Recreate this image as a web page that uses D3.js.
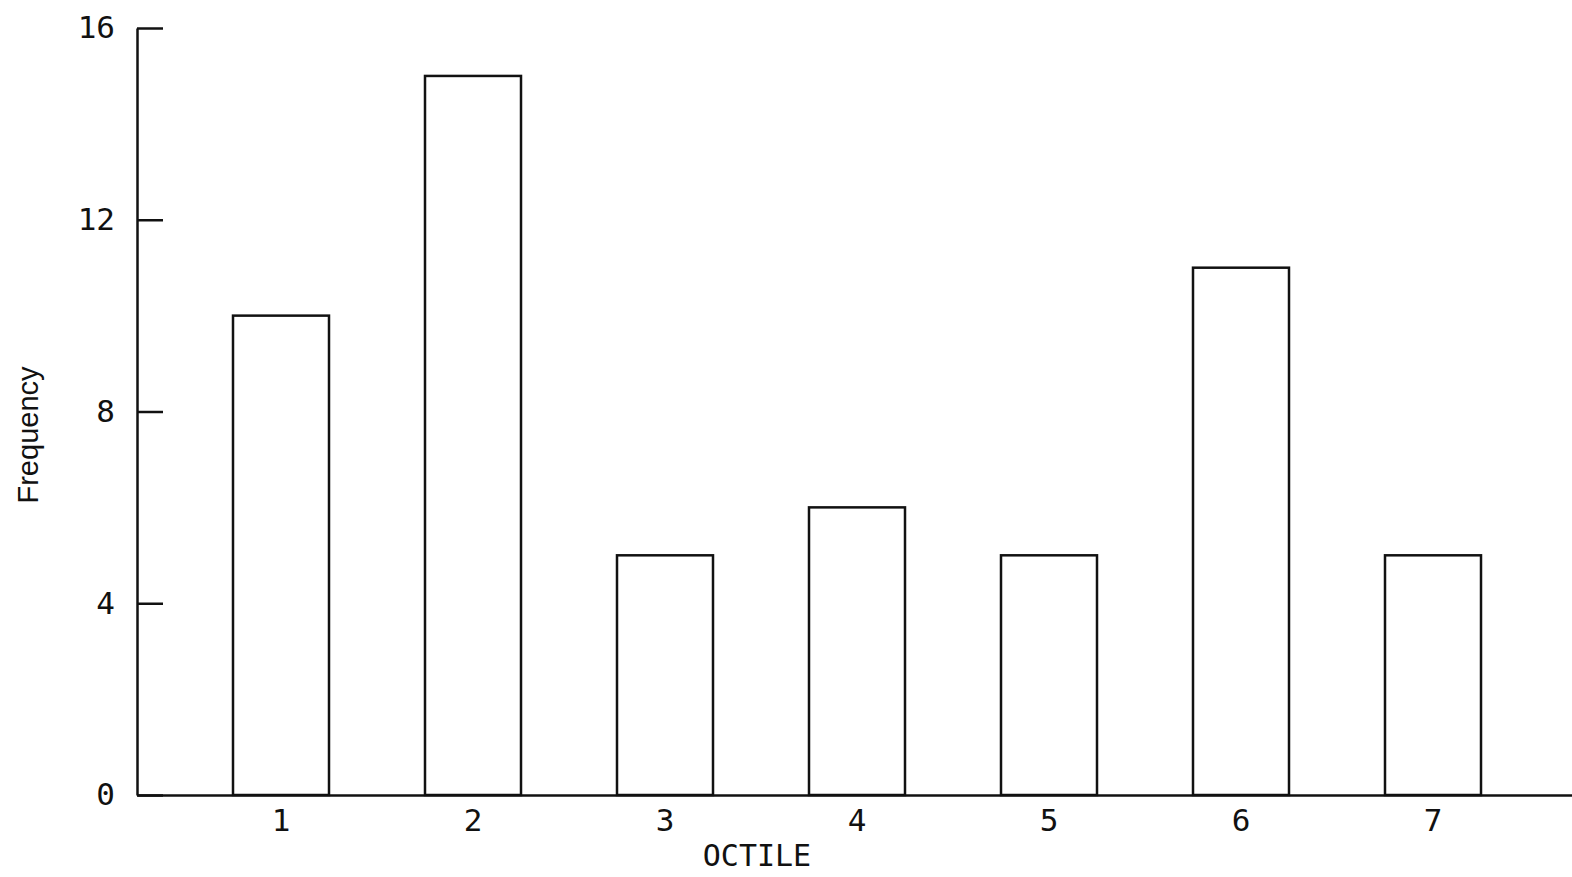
<!DOCTYPE html>
<html>
<head>
<meta charset="utf-8">
<script src="https://cdn.jsdelivr.net/npm/d3@7"></script>
<style>
  body { margin: 0; background: #fff; }
  .axis path, .axis line { stroke: #111; stroke-width: 2.5; }
  .axis text { font-family: "DejaVu Sans Mono", monospace; font-size: 31px; fill: #111; }
  .bar { fill: none; stroke: #111; stroke-width: 2.5; }
</style>
</head>
<body>
<script>
var w = 1572;
var h = 877;

var octiles = [1, 2, 3, 4, 5, 6, 7];
var frequency = [10, 15, 5, 6, 5, 11, 5];
var yTicks = [0, 4, 8, 12, 16];

var xScale = d3.scaleBand()
               .domain(octiles)
               .range([137, 1577])
               .paddingInner(0.5)
               .paddingOuter(0.5);

var yScale = d3.scaleLinear()
               .domain([0, 16])
               .range([795, 28]);

var svg = d3.select("body")
            .append("svg")
            .attr("width", w)
            .attr("height", h);

// Bars (outlined only)
svg.selectAll("rect.bar")
   .data(frequency)
   .enter()
   .append("rect")
   .attr("class", "bar")
   .attr("x", function(d, i) { return xScale(octiles[i]); })
   .attr("width", xScale.bandwidth())
   .attr("y", function(d) { return yScale(d); })
   .attr("height", function(d) { return yScale(0) - yScale(d); });

var yAxis = d3.axisLeft(yScale)
              .tickValues(yTicks)
              .tickSizeInner(-26)
              .tickSizeOuter(0)
              .tickPadding(22);

svg.append("g")
   .attr("class", "axis")
   .attr("transform", "translate(137,0)")
   .call(yAxis);

var xAxis = d3.axisBottom(xScale)
              .tickSize(0)
              .tickPadding(14);

svg.append("g")
   .attr("class", "axis")
   .attr("transform", "translate(0,795)")
   .call(xAxis);

svg.append("text")
   .attr("x", 757)
   .attr("y", 866)
   .attr("text-anchor", "middle")
   .style("font-family", "DejaVu Sans Mono, monospace")
   .style("font-size", "30px")
   .style("fill", "#111")
   .text("OCTILE");

svg.append("text")
   .attr("transform", "translate(38,435) rotate(-90)")
   .attr("text-anchor", "middle")
   .style("font-family", "Liberation Sans, Arial, sans-serif")
   .style("font-size", "29px")
   .style("fill", "#111")
   .text("Frequency");
</script>
</body>
</html>
